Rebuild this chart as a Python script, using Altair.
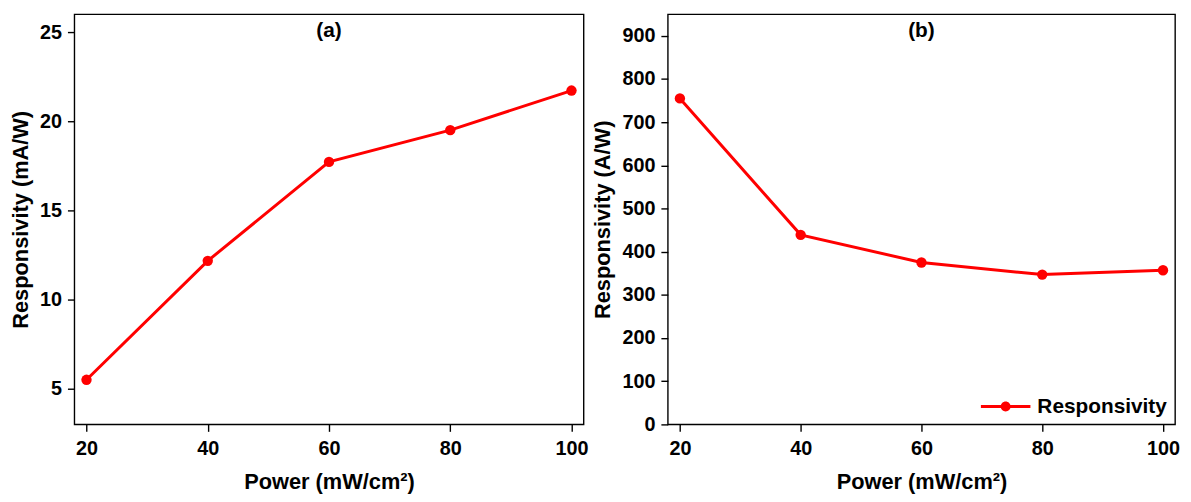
import altair as alt
import pandas as pd

power = [20, 40, 60, 80, 100]
resp_a = [5.5, 12.17, 17.72, 19.5, 21.72]      # mA/W
resp_b = [755, 439, 375, 347, 357]             # A/W
series_name = ["Responsivity"] * 5

x_ticks = [20, 40, 60, 80, 100]
y_ticks_a = [5, 10, 15, 20, 25]
y_ticks_b = [0, 100, 200, 300, 400, 500, 600, 700, 800, 900]
panel_labels = ["(a)", "(b)"]

df_a = pd.DataFrame({"power": power, "resp": resp_a})
df_b = pd.DataFrame({"power": power, "resp": resp_b, "series": series_name})

FONT = "Liberation Sans"
RED = "#ff0000"

def xenc():
    return alt.X("power:Q", scale=alt.Scale(domain=[18, 102], nice=False, zero=False),
                 axis=alt.Axis(values=x_ticks, title="Power (mW/cm²)"))

def yenc(title, domain, ticks):
    return alt.Y("resp:Q", scale=alt.Scale(domain=domain, nice=False, zero=False),
                 axis=alt.Axis(values=ticks, title=title))

def label_layer(text):
    return alt.Chart(pd.DataFrame({"t": [text]})).mark_text(
        font=FONT, fontSize=21, fontWeight="bold", color="black",
        baseline="alphabetic", align="center"
    ).encode(x=alt.datum(60), y=alt.value(22.6), text="t:N")

ya = yenc("Responsivity (mA/W)", [3, 26], y_ticks_a)
line_a = alt.Chart(df_a).mark_line(color=RED, strokeWidth=3).encode(x=xenc(), y=ya)
pts_a = alt.Chart(df_a).mark_point(filled=True, color=RED, size=110, opacity=1).encode(x=xenc(), y=ya)
panel_a = alt.layer(line_a, pts_a, label_layer(panel_labels[0])).properties(width=514, height=414)

legend_path = ("M-1,-0.06H1V0.06H-1Z "
               "M0.2,0A0.2,0.2,0,1,1,-0.2,0A0.2,0.2,0,1,1,0.2,0Z")
yb = yenc("Responsivity (A/W)", [0, 950], y_ticks_b)
line_b = alt.Chart(df_b).mark_line(color=RED, strokeWidth=3).encode(x=xenc(), y=yb)
pts_b = alt.Chart(df_b).mark_point(filled=True, size=110, opacity=1).encode(
    x=xenc(), y=yb,
    color=alt.Color("series:N", scale=alt.Scale(range=[RED]),
                    legend=alt.Legend(title=None, orient="bottom-right", offset=8,
                                      padding=0, symbolType=legend_path, symbolSize=2500,
                                      symbolStrokeWidth=0, symbolFillColor=RED,
                                      symbolOpacity=1, labelOffset=7,
                                      labelFont=FONT, labelFontSize=21,
                                      labelFontWeight="bold", labelColor="black",
                                      labelLimit=300)))
panel_b = alt.layer(line_b, pts_b, label_layer(panel_labels[1])).properties(width=512, height=414)

chart = alt.hconcat(panel_a, panel_b, spacing=1).resolve_legend(
    color="independent"
).properties(
    padding={"left": 1, "top": 3, "right": 2, "bottom": 2},
    background="white"
).configure_view(
    stroke="black", strokeWidth=1.4
).configure_axis(
    domain=False, grid=False,
    tickColor="black", tickWidth=1.4, tickSize=7,
    labelFont=FONT, labelFontSize=20, labelFontWeight="bold", labelColor="black",
    labelPadding=6,
    titleFont=FONT, titleFontSize=22, titleFontWeight="bold", titleColor="black",
).configure_axisX(
    labelPadding=7, titlePadding=14, labelFlush=False
).configure_axisY(
    titlePadding=7, labelFlush=False
)

chart.save("out.html", embed_options={"renderer": "svg", "actions": False})
